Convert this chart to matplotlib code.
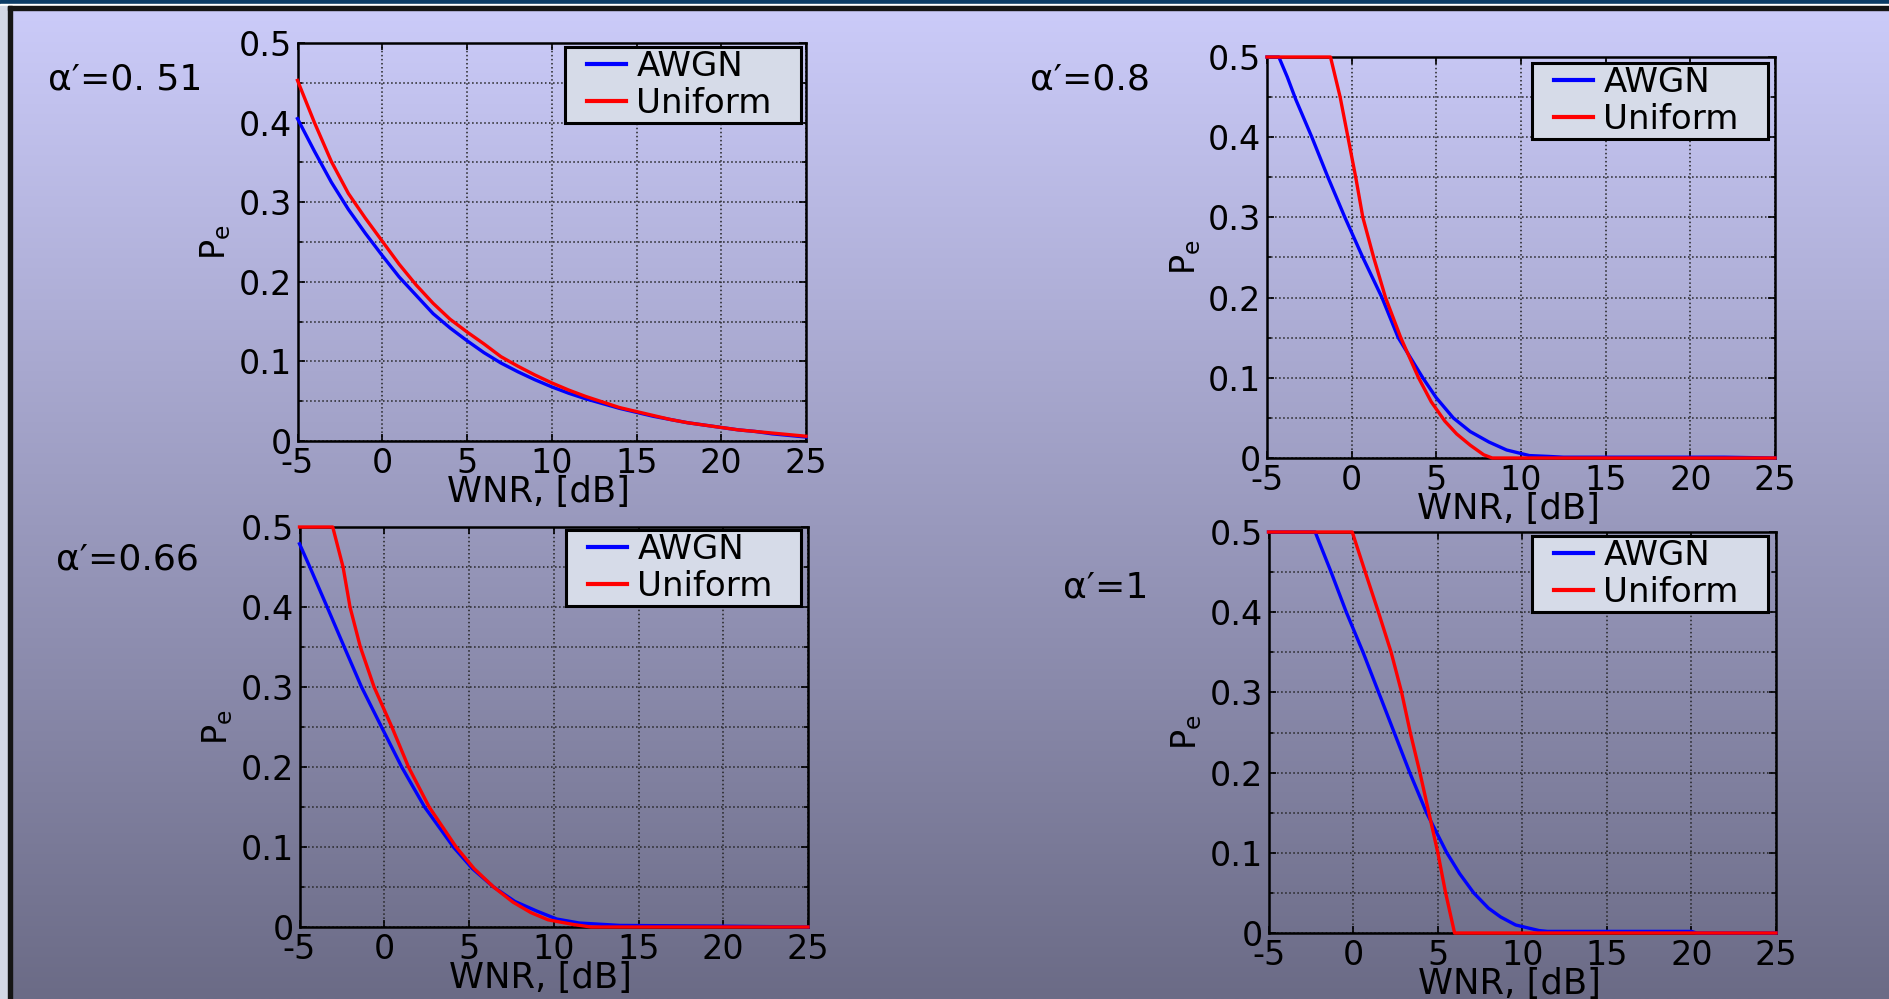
import numpy as np
import matplotlib.pyplot as plt
from matplotlib.patches import Rectangle
from matplotlib.lines import Line2D
from matplotlib.legend_handler import HandlerLine2D
from matplotlib.ticker import MultipleLocator, FuncFormatter

# Pe vs WNR curves, four watermark strengths
alpha_labels = ["α′=0. 51", "α′=0.8", "α′=0.66", "α′=1"]

# alpha' = 0.51
awgn_x_051 = list(range(-5, 26))
awgn_y_051 = [0.405, 0.364, 0.325, 0.291, 0.261, 0.233, 0.206, 0.183, 0.160, 0.142,
              0.126, 0.111, 0.098, 0.087, 0.077, 0.068, 0.060, 0.053, 0.047, 0.041,
              0.036, 0.031, 0.027, 0.023, 0.020, 0.017, 0.014, 0.012, 0.009, 0.007, 0.005]
unif_x_051 = list(range(-5, 26))
unif_y_051 = [0.453, 0.400, 0.351, 0.311, 0.280, 0.251, 0.222, 0.196, 0.173, 0.153,
              0.137, 0.122, 0.106, 0.094, 0.083, 0.073, 0.064, 0.056, 0.049, 0.042,
              0.037, 0.032, 0.027, 0.023, 0.020, 0.017, 0.014, 0.012, 0.010, 0.008, 0.006]

# alpha' = 0.8
awgn_x_08 = [-5, -4.3, -3.8, -3.3, -2.35, -1.4, -0.4, 0.66, 1.79, 2.75, 4.2, 5.0, 6.0, 7.0,
             8.1, 9.15, 10.5, 11.6, 12.5, 22, 25]
awgn_y_08 = [0.5, 0.5, 0.475, 0.447, 0.40, 0.35, 0.30, 0.25, 0.20, 0.15, 0.10, 0.075, 0.05,
             0.033, 0.02, 0.01, 0.003, 0.002, 0.001, 0.001, 0.0]
unif_x_08 = [-5, -1.25, -0.68, -0.22, 0.24, 0.66, 1.3, 2.0, 2.9, 3.95, 4.7, 5.5, 6.2,
             7.0, 7.8, 8.3, 25]
unif_y_08 = [0.5, 0.5, 0.45, 0.40, 0.35, 0.30, 0.25, 0.20, 0.15, 0.10, 0.07, 0.046, 0.030,
             0.016, 0.004, 0.0, 0.0]

# alpha' = 0.66
awgn_x_066 = [-5, -4.39, -3.37, -2.36, -1.34, -0.16, 1.03, 2.38, 4.08, 5.2, 6.45, 7.7,
              8.99, 10.17, 11.5, 13.9, 20.3, 25]
awgn_y_066 = [0.479, 0.45, 0.40, 0.35, 0.30, 0.25, 0.20, 0.15, 0.10, 0.073, 0.05, 0.032,
              0.02, 0.01, 0.005, 0.002, 0.001, 0.0]
unif_x_066 = [-5, -3.04, -2.43, -2.02, -1.41, -0.6, 0.45, 1.43, 2.65, 4.24, 5.3, 6.45,
              7.6, 8.65, 9.66, 11.2, 12.2, 25]
unif_y_066 = [0.5, 0.5, 0.45, 0.40, 0.35, 0.30, 0.25, 0.20, 0.15, 0.10, 0.073, 0.05,
              0.031, 0.018, 0.009, 0.003, 0.0, 0.0]

# alpha' = 1
awgn_x_1 = [-5, -2.24, -1.3, -0.4, 0.59, 1.51, 2.43, 3.35, 4.34, 5.54, 6.3, 7.13,
            8.0, 8.72, 9.61, 11.0, 11.5, 20.0, 20.3, 25]
awgn_y_1 = [0.5, 0.5, 0.45, 0.40, 0.35, 0.30, 0.25, 0.20, 0.15, 0.10, 0.074, 0.05,
            0.031, 0.02, 0.01, 0.003, 0.002, 0.002, 0.0, 0.0]
unif_x_1 = [-5, -0.05, 0.72, 1.5, 2.25, 2.87, 3.38, 3.95, 4.48, 5.01, 5.47, 6.0, 25]
unif_y_1 = [0.5, 0.5, 0.45, 0.40, 0.35, 0.30, 0.25, 0.20, 0.15, 0.10, 0.05, 0.0, 0.0]

x_ticks = [-5, 0, 5, 10, 15, 20, 25]

W, H = 1889, 999
plt.rcParams['font.family'] = ['DejaVu Sans']
plt.rcParams['mathtext.fontset'] = 'dejavusans'
fig = plt.figure(figsize=(W / 100, H / 100), dpi=100)

# slide background: vertical gradient plus frame bits
bg = fig.add_axes([0, 0, 1, 1])
top_c = np.array([204, 204, 250]) / 255
bot_c = np.array([107, 107, 134]) / 255
g = np.linspace(0, 1, 512)[:, None, None]
img = top_c * (1 - g) + bot_c * g
img = np.repeat(img, 2, axis=1)
bg.imshow(img, extent=[0, W, H, 0], aspect='auto')
bg.add_patch(Rectangle((0, 0), W, 3.5, color='#0c3c66'))
bg.add_patch(Rectangle((0, 3.5), W, 2.5, color='white'))
bg.add_patch(Rectangle((0, 6), 8, H, color='#d3d8e5'))
bg.add_patch(Rectangle((8, 6), W, 4, color='#151515'))
bg.add_patch(Rectangle((8, 6), 4, H, color='#151515'))
bg.set_xlim(0, W)
bg.set_ylim(H, 0)
bg.axis('off')

# panel boxes in pixels: left, top, right, bottom
boxes = [(297.5, 43, 806, 441), (1267, 57, 1775, 458),
         (299.5, 527, 808, 927), (1268.5, 532, 1776, 933)]
# legend boxes in pixels: left, top, right
leg_boxes = [(565, 47, 801), (1532, 63, 1768), (566, 530, 801), (1532, 536, 1768)]
text_pos = [(48, 80), (1030, 80), (56, 559), (1063, 588)]
series = [(awgn_x_051, awgn_y_051, unif_x_051, unif_y_051),
          (awgn_x_08, awgn_y_08, unif_x_08, unif_y_08),
          (awgn_x_066, awgn_y_066, unif_x_066, unif_y_066),
          (awgn_x_1, awgn_y_1, unif_x_1, unif_y_1)]

for (l, t, r, b), (ll, lt, lr), (tx, ty), lab, (ax_, ay_, ux, uy) in zip(
        boxes, leg_boxes, text_pos, alpha_labels, series):
    aw, ah = r - l, b - t
    ax = fig.add_axes([l / W, 1 - b / H, aw / W, ah / H])
    ax.set_facecolor('none')
    ax.plot(ax_, ay_, color='#0000ff', lw=2.4, label='AWGN', clip_on=False, zorder=3)
    ax.plot(ux, uy, color='#ff0000', lw=2.4, label='Uniform', clip_on=False, zorder=4)
    ax.set_xlim(-5, 25)
    ax.set_ylim(0, 0.5)
    ax.set_xticks(x_ticks)
    ax.xaxis.set_major_formatter(FuncFormatter(lambda v, p: f'{int(round(v))}'))
    ax.yaxis.set_major_locator(MultipleLocator(0.1))
    ax.yaxis.set_minor_locator(MultipleLocator(0.05))
    ax.yaxis.set_major_formatter(FuncFormatter(lambda v, p: '0' if abs(v) < 1e-9 else f'{v:.1f}'))
    ax.grid(True, which='both', axis='y', ls=':', lw=1.1, color='#222222')
    ax.grid(True, which='major', axis='x', ls=':', lw=1.1, color='#222222')
    ax.tick_params(which='both', direction='in', top=True, right=True, labelsize=24,
                   pad=4, width=1.2)
    ax.tick_params(which='major', length=5)
    ax.tick_params(which='minor', length=3)
    for s in ax.spines.values():
        s.set_linewidth(1.8)
        s.set_color('black')
    ax.set_xlabel('WNR, [dB]', fontsize=25.5, labelpad=-5)
    ax.xaxis.set_label_coords(0.5 - 13 / aw, -0.085)
    ax.set_ylabel(r'$\mathrm{P_e}$', fontsize=24, labelpad=4)
    leg = ax.legend(loc='upper left', mode='expand',
                    bbox_to_anchor=((ll - l) / aw, 0, (lr - ll) / aw, 1 - (lt - t) / ah),
                    borderaxespad=0, fontsize=24.5, labelspacing=0.12, borderpad=0.08,
                    handlelength=1.72, handletextpad=0.3,
                    handler_map={Line2D: HandlerLine2D(xpad=0.56)},
                    fancybox=False, framealpha=1, facecolor='#d6dbe8', edgecolor='black')
    leg.get_frame().set_linewidth(2.2)
    for ln in leg.get_lines():
        ln.set_linewidth(3)
    bg.text(tx, ty, lab, fontsize=26, ha='left', va='center', color='black')

fig.savefig('out.png', dpi=100)
